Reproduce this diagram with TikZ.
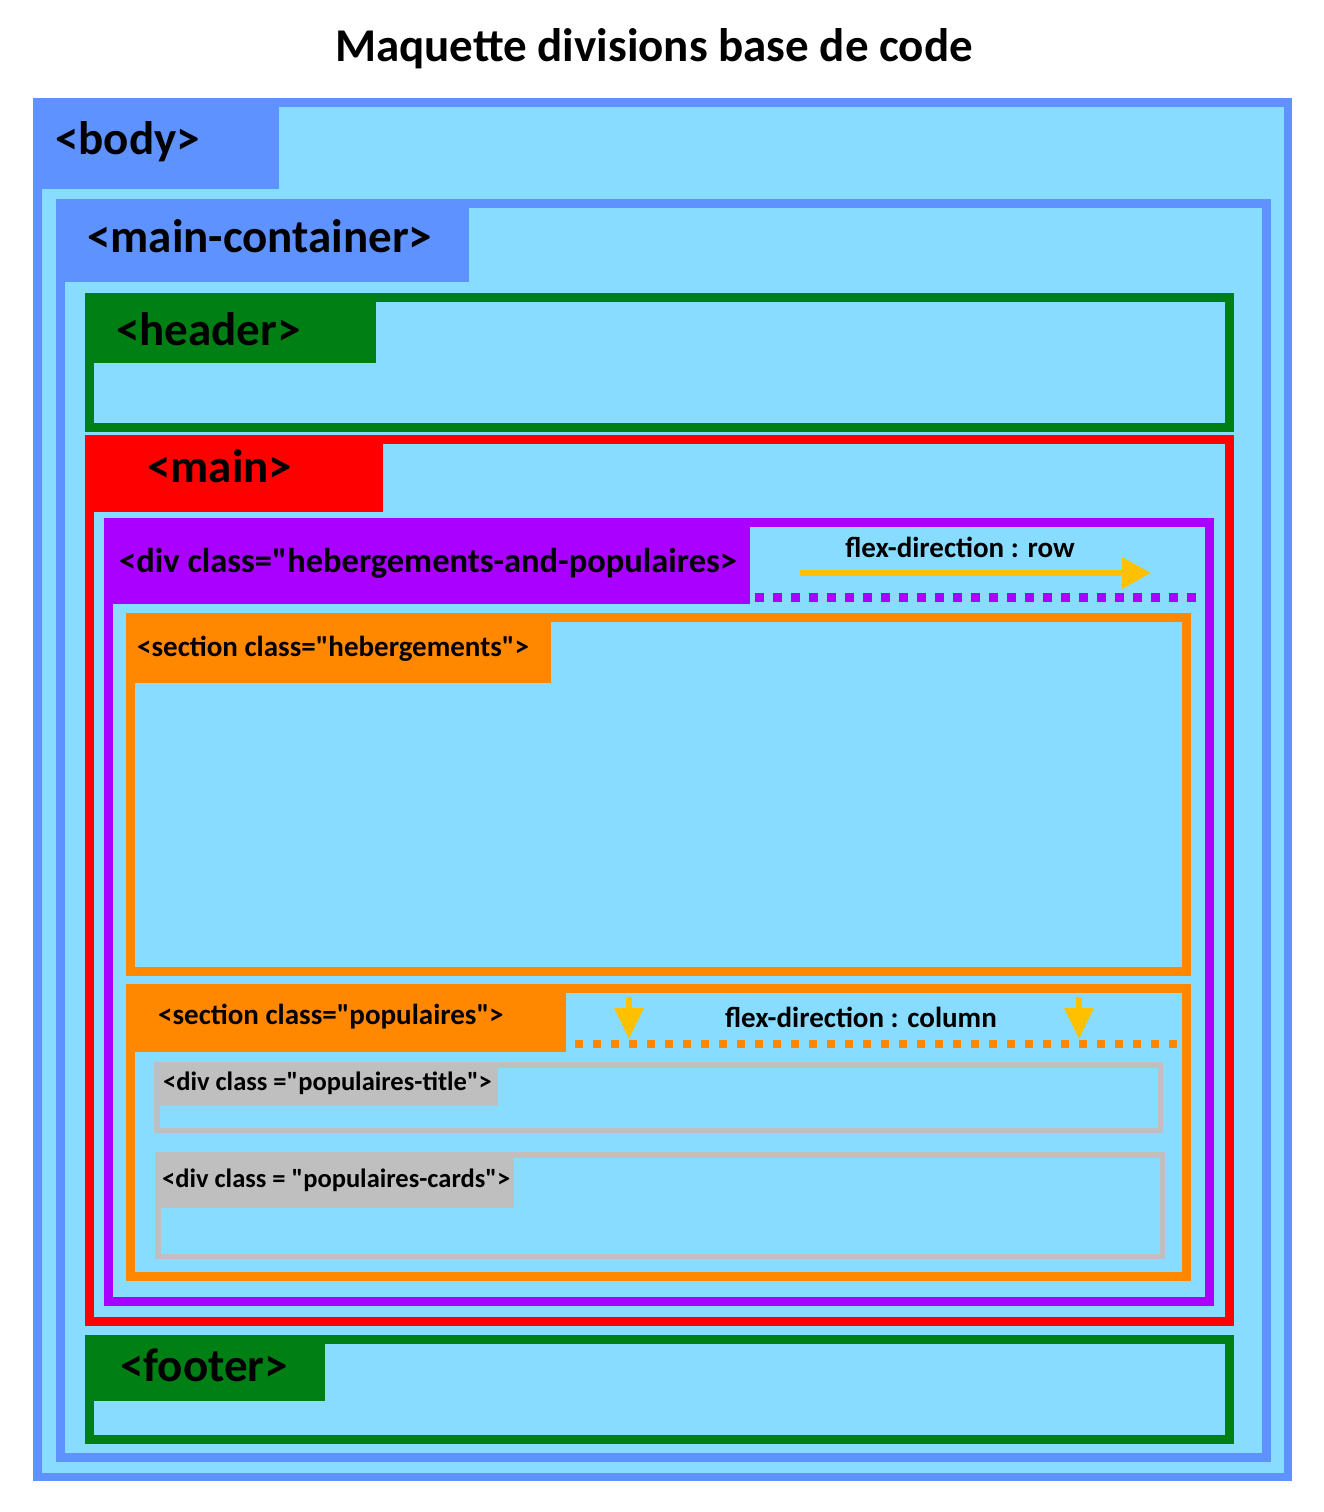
\documentclass[tikz,border=0pt]{standalone}
\usepackage{fontspec}
\setmainfont{Carlito}[Ligatures=TeXOff]
\usetikzlibrary{arrows.meta}
\definecolor{fondbleu}{HTML}{87DCFF}
\definecolor{bodybleu}{HTML}{5E92FF}
\definecolor{vertbloc}{HTML}{007F14}
\definecolor{rougebloc}{HTML}{FF0000}
\definecolor{violetbloc}{HTML}{AA00FF}
\definecolor{orangebloc}{HTML}{FF8800}
\definecolor{grisbloc}{HTML}{BFBFBF}
\definecolor{jaunefleche}{HTML}{FFC000}
\tikzset{boite/.style={fill=fondbleu, line width=9pt}, petiteboite/.style={fill=fondbleu, line width=5.5pt},
  etiq/.style={anchor=base west, inner sep=0pt, font=\bfseries\fontsize{47}{52}\selectfont},
  etiqmoy/.style={anchor=base west, inner sep=0pt, font=\bfseries\fontsize{29}{33}\selectfont},
  etiqpetite/.style={anchor=base west, inner sep=0pt, font=\bfseries\fontsize{26.5}{30}\selectfont},
  fleche/.style={draw=jaunefleche, line width=6pt, -{Triangle[length=29pt,width=30pt]}},
  flechebas/.style={draw=jaunefleche, line width=6pt, -{Triangle[length=31pt,width=28pt]}},
  pointille/.style={dash pattern=on 9pt off 9pt}}

\begin{document}
\begin{tikzpicture}[x=1pt,y=-1pt]
    \useasboundingbox[fill=white] (0,0) rectangle (1323,1512);

    \node[anchor=base, inner sep=0pt, font=\bfseries\fontsize{47}{52}\selectfont] (titre) at (654,62) {Maquette divisions base de code};

    % body
    \draw[boite, draw=bodybleu, line width=8.5pt] (37.25,102.25) rectangle (1287.75,1476.75);
    \fill[bodybleu] (33,98) rectangle (279,189);
    \node[etiq] (body) at (55,154) {<body>};

    % main-container
    \draw[boite, draw=bodybleu] (60.5,203.5) rectangle (1266.5,1457.5);
    \fill[bodybleu] (56,199) rectangle (469,282);
    \node[etiq] (container) at (87,252) {<main-container>};

    % header
    \draw[boite, draw=vertbloc] (89.5,297.5) rectangle (1229.5,427.5);
    \fill[vertbloc] (85,293) rectangle (376,363);
    \node[etiq] (header) at (116,345) {<header>};

    % main
    \draw[boite, draw=rougebloc] (89.5,439.5) rectangle (1229.5,1321.5);
    \fill[rougebloc] (85,435) rectangle (383,512);
    \node[etiq] (main) at (147,482) {<main>};

    % div hebergements-and-populaires
    \draw[boite, draw=violetbloc] (108.5,522.5) rectangle (1209.5,1301.5);
    \fill[violetbloc] (104,518) rectangle (750,604);
    \node[etiq, font=\bfseries\fontsize{34.5}{38}\selectfont] (divhp) at (119,572) {<div class="hebergements-and-populaires>};
    \node[etiqmoy, anchor=base] (row) at (960,557) {flex-direction : row};
    \coordinate (rowdebut) at (800,573);
    \coordinate (rowfin) at (1151,573);
    \draw[fleche] (rowdebut) -- (rowfin);
    \draw[violetbloc, line width=9pt, pointille] (755,597.5) -- (1196,597.5);

    % section hebergements
    \draw[boite, draw=orangebloc] (130.5,617.5) rectangle (1186.5,971.5);
    \fill[orangebloc] (126,613) rectangle (551,683);
    \node[etiqmoy] (hebergements) at (137,656) {<section class="hebergements">};

    % section populaires
    \draw[boite, draw=orangebloc] (130.5,988.5) rectangle (1186.5,1276.5);
    \fill[orangebloc] (126,984) rectangle (566,1052);
    \node[etiqmoy] (populaires) at (158,1024) {<section class="populaires">};
    \node[etiqmoy, anchor=base] (column) at (861,1027) {flex-direction : column};
    \draw[orangebloc, line width=8pt, dash pattern=on 8pt off 10pt] (575,1044) -- (1178,1044);
    \coordinate (colahaut) at (629,997);
    \coordinate (colabas) at (629,1039);
    \coordinate (colbhaut) at (1079,997);
    \coordinate (colbbas) at (1079,1039);
    \draw[flechebas] (colahaut) -- (colabas);
    \draw[flechebas] (colbhaut) -- (colbbas);

    % div populaires-title
    \draw[petiteboite, draw=grisbloc] (156.75,1064.75) rectangle (1160.25,1130.25);
    \fill[grisbloc] (154,1062) rectangle (498,1106);
    \node[etiqpetite] (poptitle) at (163,1090) {<div class ="populaires-title">};

    % div populaires-cards
    \draw[petiteboite, draw=grisbloc] (157.75,1154.75) rectangle (1162.25,1256.25);
    \fill[grisbloc] (155,1152) rectangle (514,1208);
    \node[etiqpetite] (popcards) at (162,1187) {<div class = "populaires-cards">};

    % footer
    \draw[boite, draw=vertbloc] (89.5,1339.5) rectangle (1229.5,1439.5);
    \fill[vertbloc] (85,1335) rectangle (325,1401);
    \node[etiq] (footer) at (120,1381) {<footer>};
\end{tikzpicture}
\end{document}
